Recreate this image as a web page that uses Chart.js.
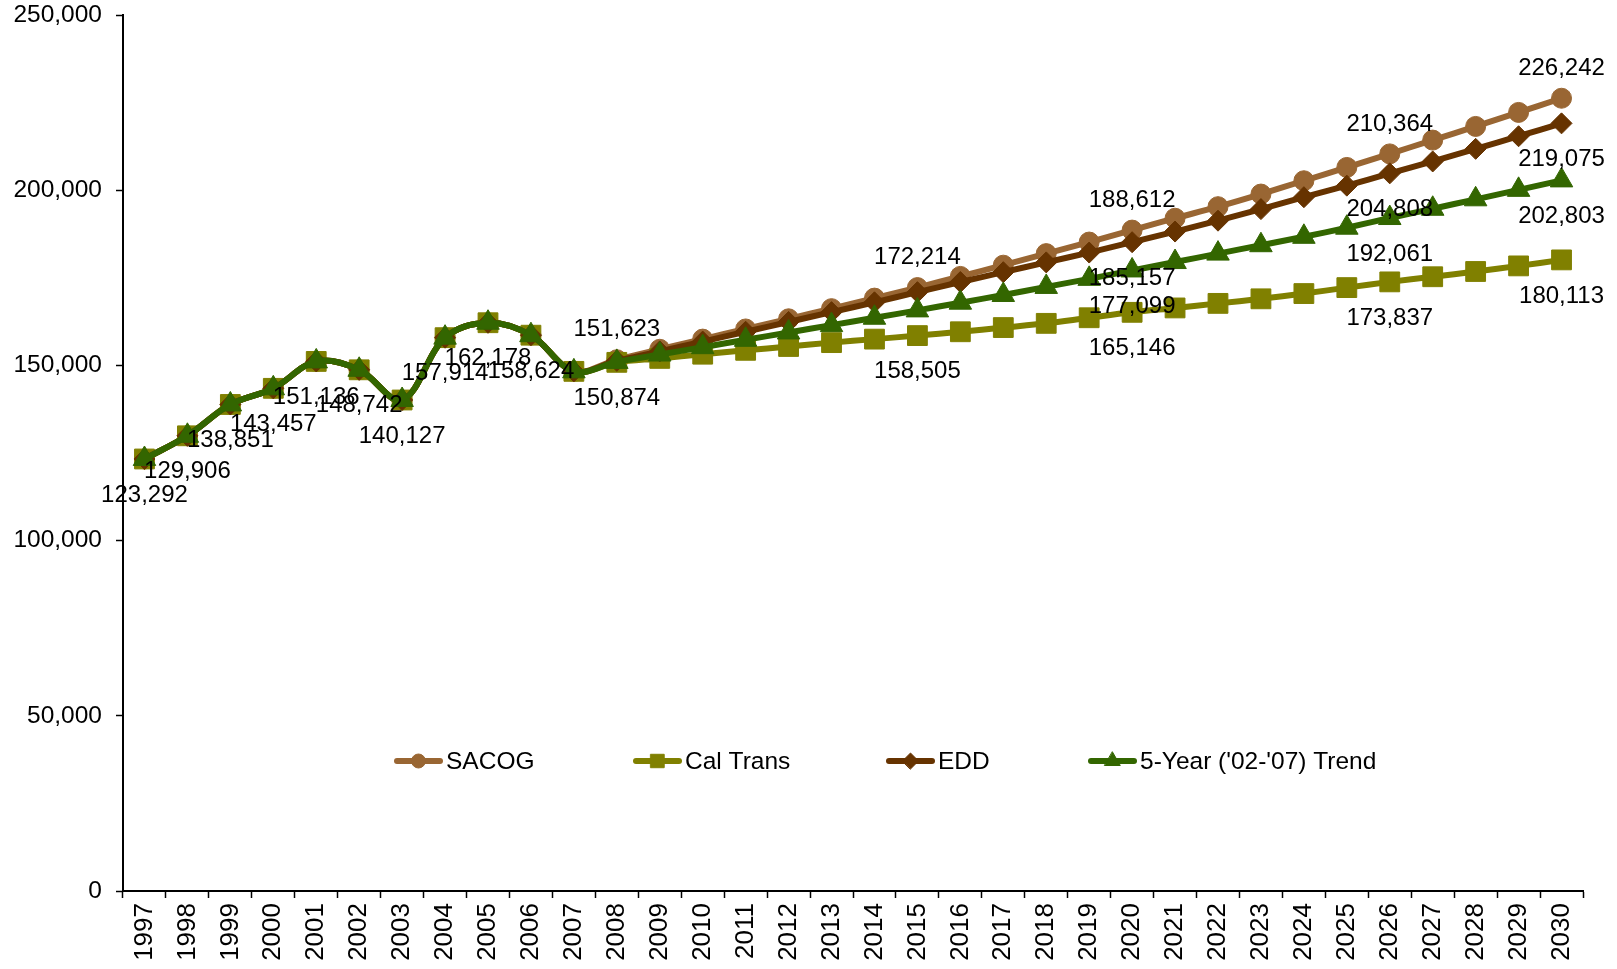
<!DOCTYPE html>
<html>
<head>
<meta charset="utf-8">
<script src="https://cdn.jsdelivr.net/npm/chart.js@4.4.0/dist/chart.umd.min.js"></script>
<style>
  html, body { margin: 0; padding: 0; background: #ffffff; }
  canvas { display: block; }
</style>
</head>
<body>
<canvas id="jobsChart" width="1617" height="969"></canvas>
<script>
// Years on the horizontal axis
const years = ['1997','1998','1999','2000','2001','2002','2003','2004','2005','2006','2007',
  '2008','2009','2010','2011','2012','2013','2014','2015','2016','2017','2018','2019',
  '2020','2021','2022','2023','2024','2025','2026','2027','2028','2029','2030'];

// Recorded values 1997-2007, shared by every series
const history = [123292, 129906, 138851, 143457, 151136, 148742, 140127, 157914, 162178, 158624, 148300];

// Forecasts 2008-2030
const sacogForecast = [151623, 154600, 157500, 160400, 163300, 166200, 169200, 172214, 175400, 178600, 181900, 185200,
  188612, 192000, 195300, 198900, 202700, 206500, 210364, 214300, 218200, 222200, 226242];
const calTransForecast = [150874, 152000, 153200, 154300, 155400, 156500, 157500, 158505, 159600, 160800, 162000, 163600,
  165146, 166400, 167700, 169000, 170500, 172200, 173837, 175300, 176800, 178400, 180113];
const eddForecast = [151300, 154000, 156800, 159600, 162400, 165200, 168000, 170900, 173800, 176600, 179400, 182200,
  185157, 188200, 191300, 194600, 198000, 201300, 204808, 208200, 211800, 215400, 219075];
const trendForecast = [151000, 153100, 155200, 157300, 159400, 161500, 163600, 165700, 167900, 170100, 172400, 174700,
  177099, 179500, 181900, 184300, 186700, 189300, 192061, 194700, 197400, 200100, 202803];

// Years whose values are printed next to the marks
const sacogLabelYears = ['2008','2015','2020','2026','2030'];
const calTransLabelYears = ['2008','2015','2020','2026','2030'];
const eddLabelYears = ['2020','2026','2030'];
const trendLabelYears = ['1997','1998','1999','2000','2001','2002','2003','2004','2005','2006','2020','2026','2030'];

// Axis ticks
const yTicks = [0, 50000, 100000, 150000, 200000, 250000];

const FONT = '"Liberation Sans", Arial, Helvetica, sans-serif';
const fmt = new Intl.NumberFormat('en-US');

function series(label, forecast, color, style, radius, labelYears, above, order) {
  return {
    label,
    data: history.concat(forecast),
    borderColor: color,
    backgroundColor: color,
    pointBackgroundColor: color,
    pointBorderColor: color,
    pointStyle: style,
    pointRadius: radius,
    pointHoverRadius: radius,
    pointBorderWidth: 1,
    borderWidth: 6,
    borderJoinStyle: 'round',
    borderCapStyle: 'round',
    tension: 0.35,
    labelYears,
    labelAbove: above,
    order
  };
}

const datasets = [
  series('SACOG', sacogForecast, '#996633', 'circle', 10, sacogLabelYears, true, 4),
  series('Cal Trans', calTransForecast, '#808000', 'rect', 14, calTransLabelYears, false, 3),
  series('EDD', eddForecast, '#663300', 'rectRot', 10.5, eddLabelYears, false, 2),
  series("5-Year ('02-'07) Trend", trendForecast, '#336600', 'triangle', 13, trendLabelYears, false, 1)
];

// Prints the value next to selected points
const valueLabels = {
  id: 'valueLabels',
  afterDatasetsDraw(chart) {
    const ctx = chart.ctx;
    ctx.save();
    ctx.font = '24px ' + FONT;
    ctx.fillStyle = '#000000';
    ctx.textAlign = 'center';
    ctx.textBaseline = 'middle';
    chart.data.datasets.forEach((ds, di) => {
      const meta = chart.getDatasetMeta(di);
      ds.labelYears.forEach(yr => {
        const i = chart.data.labels.indexOf(yr);
        const pt = meta.data[i];
        const dy = ds.labelAbove ? -30 : 36;
        ctx.fillText(fmt.format(ds.data[i]), pt.x, pt.y + dy);
      });
    });
    ctx.restore();
  }
};

// Single-row legend placed inside the plot area
const legendRow = {
  id: 'legendRow',
  afterDraw(chart) {
    const ctx = chart.ctx;
    const y = 761;
    const starts = [397, 636, 889, 1091];
    const markerRadius = { circle: 7, rect: 9.5, rectRot: 8, triangle: 9 };
    ctx.save();
    chart.data.datasets.forEach((ds, i) => {
      const x0 = starts[i];
      ctx.strokeStyle = ds.borderColor;
      ctx.lineWidth = 6;
      ctx.lineCap = 'round';
      ctx.beginPath();
      ctx.moveTo(x0, y);
      ctx.lineTo(x0 + 43, y);
      ctx.stroke();
      ctx.fillStyle = ds.borderColor;
      ctx.lineWidth = 1;
      Chart.helpers.drawPoint(ctx, { pointStyle: ds.pointStyle, radius: markerRadius[ds.pointStyle], borderWidth: 1 }, x0 + 21.5, y);
      ctx.fillStyle = '#000000';
      ctx.font = '24.5px ' + FONT;
      ctx.textAlign = 'left';
      ctx.textBaseline = 'middle';
      ctx.fillText(ds.label, x0 + 49, y + 1);
    });
    ctx.restore();
  }
};

new Chart(document.getElementById('jobsChart'), {
  type: 'line',
  data: { labels: years, datasets },
  plugins: [valueLabels, legendRow],
  options: {
    responsive: false,
    animation: false,
    devicePixelRatio: 1,
    layout: { padding: { top: 15, right: 34, left: 0, bottom: 0 } },
    plugins: {
      legend: { display: false },
      tooltip: { enabled: false }
    },
    scales: {
      x: {
        type: 'category',
        offset: true,
        grid: {
          display: true,
          offset: true,
          drawOnChartArea: false,
          drawTicks: true,
          tickLength: 7,
          tickColor: '#000000',
          tickWidth: 1.5
        },
        border: { display: true, color: '#000000', width: 2 },
        ticks: {
          color: '#000000',
          font: { family: FONT, size: 26 },
          minRotation: 90,
          maxRotation: 90,
          autoSkip: false,
          padding: 5
        },
        afterFit(scale) {
          scale.height = 78;
          scale.paddingLeft = 0;
          scale.paddingRight = 0;
        }
      },
      y: {
        min: 0,
        max: 250000,
        afterBuildTicks(scale) { scale.ticks = yTicks.map(v => ({ value: v })); },
        grid: {
          display: true,
          drawOnChartArea: false,
          drawTicks: true,
          tickLength: 7,
          tickColor: '#000000',
          tickWidth: 1.5
        },
        border: { display: true, color: '#000000', width: 2 },
        ticks: {
          color: '#000000',
          font: { family: FONT, size: 24.5 },
          padding: 14,
          callback: v => fmt.format(v)
        },
        afterFit(scale) {
          scale.width = 123;
          scale.paddingTop = 0;
          scale.paddingBottom = 0;
        }
      }
    }
  }
});
</script>
</body>
</html>
